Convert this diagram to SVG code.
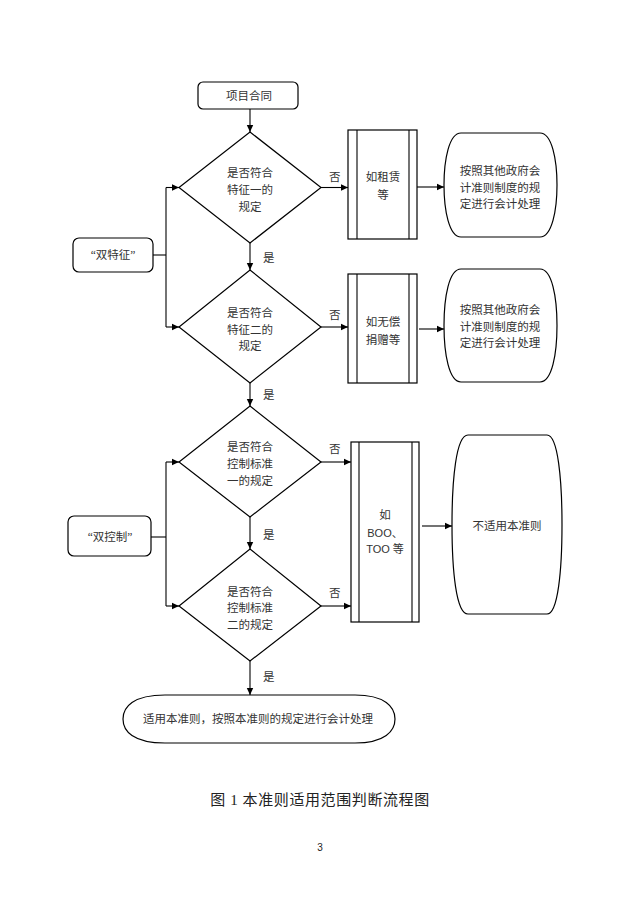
<svg xmlns="http://www.w3.org/2000/svg" width="640" height="905" viewBox="0 0 640 905">
<style>
.s{fill:#fff;stroke:#000;stroke-width:1.2}
.l{fill:none;stroke:#000;stroke-width:1.1}
.t{font-family:"Liberation Serif","Noto Sans CJK SC",serif;font-size:11.5px;fill:#333;text-anchor:middle}
.ts{font-family:"Liberation Sans","Noto Sans CJK SC",sans-serif;font-size:11px;fill:#333;text-anchor:middle}
.c{font-family:"Liberation Serif","Noto Sans CJK SC",serif;font-size:15px;fill:#222;text-anchor:middle;letter-spacing:0.6px}
.n{font-family:"Liberation Sans","Noto Sans CJK SC",sans-serif;font-size:10px;fill:#222;text-anchor:middle}
.a{font-family:"Liberation Sans","Noto Sans CJK SC",sans-serif;font-size:11.5px;fill:#333}
</style>
<defs>
<marker id="ah" markerWidth="8" markerHeight="8" refX="7" refY="4" orient="auto" markerUnits="userSpaceOnUse">
<path d="M0,0.8 L7,4 L0,7.2 Z" fill="#000"/>
</marker>
</defs>
<rect width="640" height="905" fill="#fff"/>

<g id="start">
<rect class="s" x="198" y="82" width="100" height="27" rx="5"/>
<text class="t" x="249" y="100">项目合同</text>
</g>

<g id="d1">
<polygon class="s" points="250,132 321,187.5 250,243 179,187.5"/>
<text class="t" x="250" y="177">是否符合</text>
<text class="t" x="250" y="194">特征一的</text>
<text class="t" x="250" y="211">规定</text>
</g>

<g id="d2">
<polygon class="s" points="250,270 321,327 250,383 179,327"/>
<text class="t" x="250" y="317">是否符合</text>
<text class="t" x="250" y="334">特征二的</text>
<text class="t" x="250" y="350">规定</text>
</g>

<g id="d3">
<polygon class="s" points="250,406 321,462 250,517 179,462"/>
<text class="t" x="250" y="451">是否符合</text>
<text class="t" x="250" y="468">控制标准</text>
<text class="t" x="250" y="485">一的规定</text>
</g>

<g id="d4">
<polygon class="s" points="250,549 321,606 250,661 179,606"/>
<text class="t" x="250" y="596">是否符合</text>
<text class="t" x="250" y="612">控制标准</text>
<text class="t" x="250" y="629">二的规定</text>
</g>

<g id="feat">
<rect class="s" x="73" y="238" width="80" height="34" rx="6"/>
<text class="t" x="113" y="259">“双特征”</text>
</g>

<g id="ctrl">
<rect class="s" x="68" y="516" width="83" height="40" rx="6"/>
<text class="t" x="110" y="541">“双控制”</text>
</g>

<g id="b1">
<rect class="s" x="348" y="130" width="69" height="109"/>
<line class="l" x1="357" y1="130" x2="357" y2="239"/>
<line class="l" x1="409" y1="130" x2="409" y2="239"/>
<text class="t" x="383" y="181">如租赁</text>
<text class="t" x="383" y="199">等</text>
</g>

<g id="b2">
<rect class="s" x="348" y="274" width="69" height="109"/>
<line class="l" x1="357" y1="274" x2="357" y2="383"/>
<line class="l" x1="409" y1="274" x2="409" y2="383"/>
<text class="t" x="383" y="326">如无偿</text>
<text class="t" x="383" y="344">捐赠等</text>
</g>

<g id="b3">
<rect class="s" x="351" y="442" width="68" height="180"/>
<line class="l" x1="359" y1="442" x2="359" y2="622"/>
<line class="l" x1="412" y1="442" x2="412" y2="622"/>
<text class="t" x="385" y="519">如</text>
<text class="ts" x="385" y="537">BOO、</text>
<text class="ts" x="385" y="553">TOO 等</text>
</g>

<g id="o1">
<path class="s" d="M461,133 L540,133 C552,133 557,160 557,185 C557,210 552,237 540,237 L461,237 C449,237 444,210 444,185 C444,160 449,133 461,133 Z"/>
<text class="t" x="500" y="175">按照其他政府会</text>
<text class="t" x="500" y="192">计准则制度的规</text>
<text class="t" x="500" y="208">定进行会计处理</text>
</g>

<g id="o2">
<path class="s" d="M461,269 L540,269 C552,269 557,297 557,325.5 C557,354 552,382 540,382 L461,382 C449,382 444,354 444,325.5 C444,297 449,269 461,269 Z"/>
<text class="t" x="500" y="314">按照其他政府会</text>
<text class="t" x="500" y="331">计准则制度的规</text>
<text class="t" x="500" y="347">定进行会计处理</text>
</g>

<g id="o3">
<path class="s" d="M468,435 L547,435 C558,435 562,480 562,524.5 C562,570 558,614 547,614 L468,614 C456,614 452,570 452,524.5 C452,480 456,435 468,435 Z"/>
<text class="t" x="507" y="530">不适用本准则</text>
</g>

<g id="end">
<path class="s" d="M165,695 L355,695 C385,695 395,707 395,719 C395,731 385,743 355,743 L165,743 C133,743 123,731 123,719 C123,707 133,695 165,695 Z"/>
<text class="t" x="258" y="723">适用本准则，按照本准则的规定进行会计处理</text>
</g>

<g id="connectors">
<line class="l" x1="250" y1="109" x2="250" y2="132" marker-end="url(#ah)"/>
<line class="l" x1="250" y1="243" x2="250" y2="270" marker-end="url(#ah)"/>
<line class="l" x1="250" y1="383" x2="250" y2="406" marker-end="url(#ah)"/>
<line class="l" x1="250" y1="517" x2="250" y2="549" marker-end="url(#ah)"/>
<line class="l" x1="250" y1="661" x2="250" y2="695" marker-end="url(#ah)"/>
<line class="l" x1="321" y1="187.5" x2="348" y2="187.5" marker-end="url(#ah)"/>
<line class="l" x1="321" y1="327" x2="348" y2="327" marker-end="url(#ah)"/>
<line class="l" x1="321" y1="462" x2="351" y2="462" marker-end="url(#ah)"/>
<line class="l" x1="321" y1="606" x2="351" y2="606" marker-end="url(#ah)"/>
<line class="l" x1="417" y1="187" x2="444" y2="187" marker-end="url(#ah)"/>
<line class="l" x1="419" y1="329" x2="444" y2="329" marker-end="url(#ah)"/>
<line class="l" x1="422" y1="526" x2="452" y2="526" marker-end="url(#ah)"/>
<polyline class="l" points="153,255 166,255"/>
<line class="l" x1="166" y1="187.5" x2="166" y2="327"/>
<line class="l" x1="166" y1="187.5" x2="179" y2="187.5" marker-end="url(#ah)"/>
<line class="l" x1="166" y1="327" x2="179" y2="327" marker-end="url(#ah)"/>
<polyline class="l" points="151,537 166,537"/>
<line class="l" x1="166" y1="462" x2="166" y2="606"/>
<line class="l" x1="166" y1="462" x2="179" y2="462" marker-end="url(#ah)"/>
<line class="l" x1="166" y1="606" x2="179" y2="606" marker-end="url(#ah)"/>
<text class="a" x="329" y="181">否</text>
<text class="a" x="329" y="319">否</text>
<text class="a" x="329" y="453">否</text>
<text class="a" x="329" y="597">否</text>
<text class="a" x="263" y="262">是</text>
<text class="a" x="263" y="399">是</text>
<text class="a" x="263" y="539">是</text>
<text class="a" x="263" y="681">是</text>
</g>

<text class="c" x="320" y="805">图 1  本准则适用范围判断流程图</text>
<text class="n" x="320" y="851">3</text>
</svg>
